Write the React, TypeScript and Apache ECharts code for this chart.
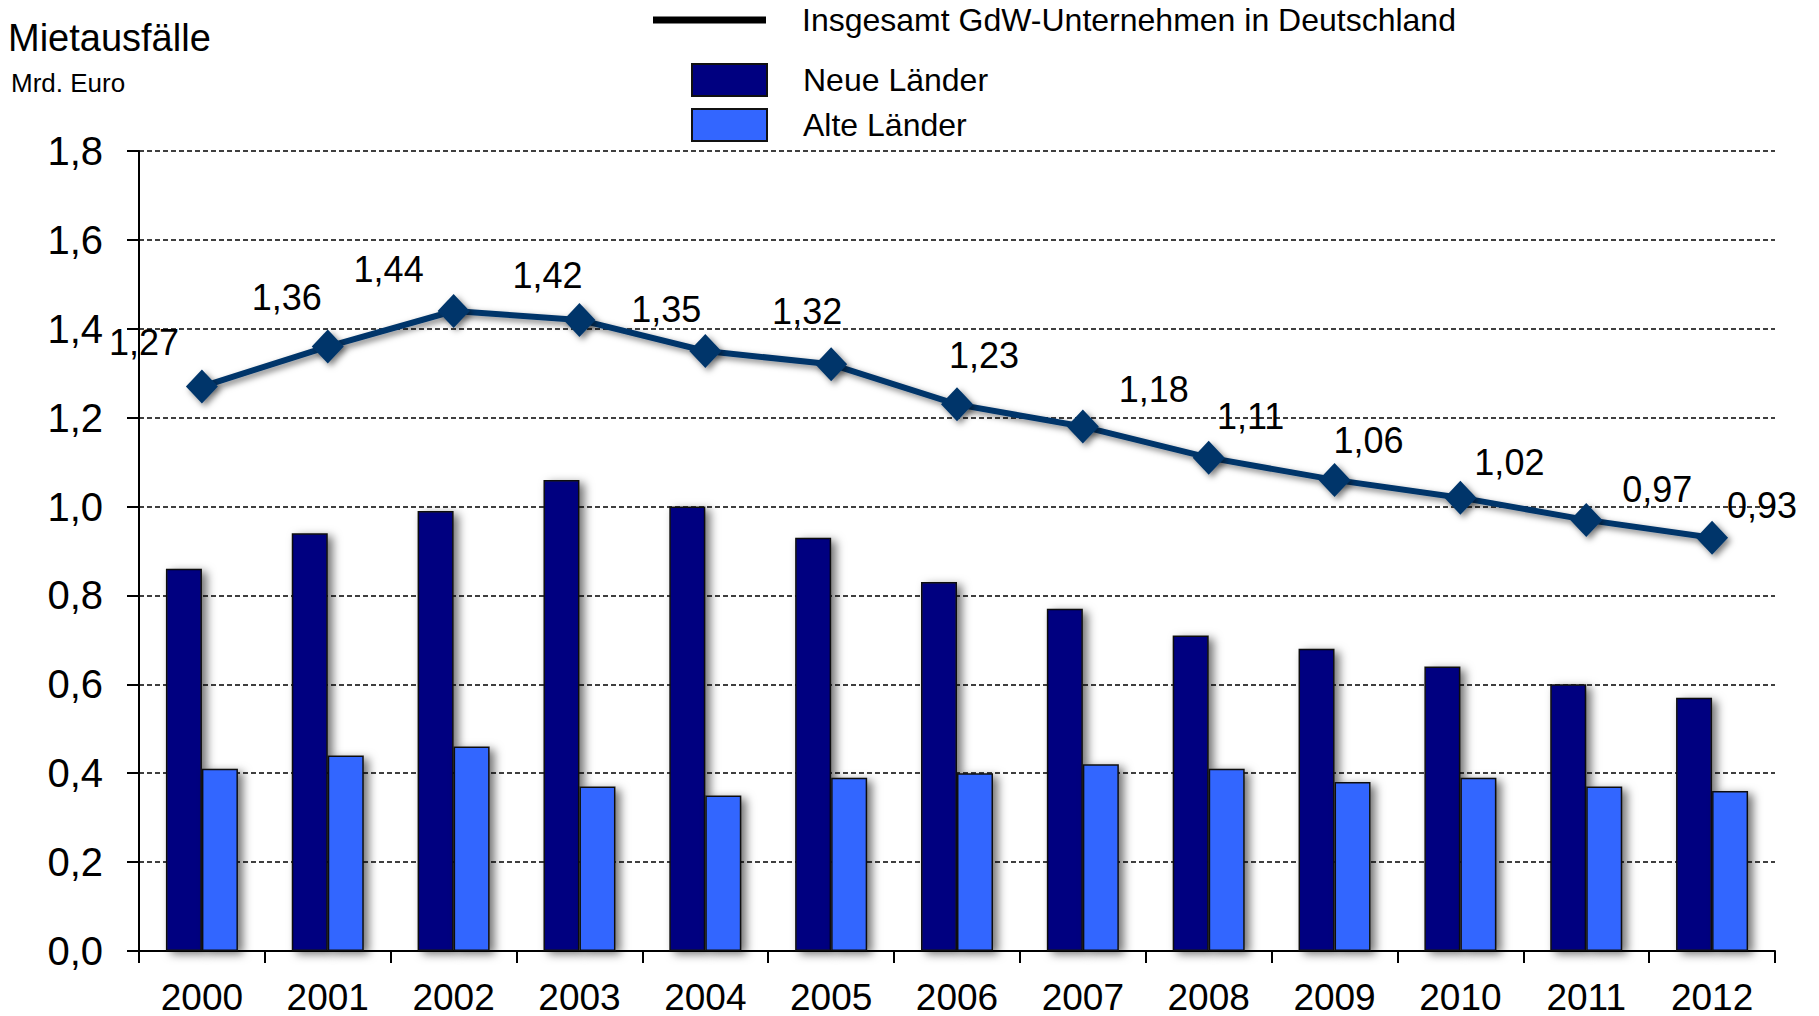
import React, { useEffect, useRef } from "react";
import * as echarts from "echarts";

const years = ["2000", "2001", "2002", "2003", "2004", "2005", "2006", "2007", "2008", "2009", "2010", "2011", "2012"];
const neueLaender = [0.86, 0.94, 0.99, 1.06, 1.0, 0.93, 0.83, 0.77, 0.71, 0.68, 0.64, 0.6, 0.57];
const alteLaender = [0.41, 0.44, 0.46, 0.37, 0.35, 0.39, 0.4, 0.42, 0.41, 0.38, 0.39, 0.37, 0.36];
const insgesamt = [1.27, 1.36, 1.44, 1.42, 1.35, 1.32, 1.23, 1.18, 1.11, 1.06, 1.02, 0.97, 0.93];

const seriesNames = ["Insgesamt GdW-Unternehmen in Deutschland", "Neue Länder", "Alte Länder"];
const titleText = "Mietausfälle";
const unitText = "Mrd. Euro";

// label placement offsets (styling only)
const labelOffsets: [number, number][] = [
  [-58, -44], [-41, -49], [-65, -42], [-32, -44], [-39, -42], [-24, -53], [27, -49],
  [71, -37], [42, -41], [34, -39], [49, -35], [71, -30], [50, -32],
];

const FONT = "'Liberation Sans', Arial, Helvetica, sans-serif";
const fmt = (v: number, d: number) => v.toFixed(d).replace(".", ",");

export default function App() {
  const ref = useRef<HTMLDivElement>(null);
  useEffect(() => {
    if (!ref.current) return;
    const chart = echarts.init(ref.current, null, { renderer: "svg" });
    const barShadow = {
      shadowBlur: 10,
      shadowColor: "rgba(0,0,0,0.55)",
      shadowOffsetX: 5,
      shadowOffsetY: 3,
    };
    const legendText = { fontFamily: FONT, fontSize: 32, color: "#000", lineHeight: 36, padding: [0, 0, 0, 31] };
    chart.setOption({
      animation: false,
      backgroundColor: "#ffffff",
      textStyle: { fontFamily: FONT },
      title: [
        {
          text: titleText,
          left: 8,
          top: 19,
          padding: 0,
          textStyle: { fontFamily: FONT, fontSize: 38, fontWeight: "normal", color: "#000" },
        },
        {
          text: unitText,
          left: 11,
          top: 70,
          padding: 0,
          textStyle: { fontFamily: FONT, fontSize: 26, fontWeight: "normal", color: "#000" },
        },
      ],
      legend: [
        {
          data: [{ name: seriesNames[0], icon: "rect", itemStyle: { color: "#000", borderWidth: 0, shadowBlur: 0 } }],
          left: 653,
          top: 2,
          padding: 0,
          itemWidth: 113,
          itemHeight: 7,
          selectedMode: false,
          textStyle: legendText,
        },
        {
          data: [{ name: seriesNames[1], icon: "rect", itemStyle: { shadowBlur: 0 } }],
          left: 691,
          top: 62,
          padding: 0,
          itemWidth: 75,
          itemHeight: 32,
          selectedMode: false,
          textStyle: legendText,
        },
        {
          data: [{ name: seriesNames[2], icon: "rect", itemStyle: { shadowBlur: 0 } }],
          left: 691,
          top: 107,
          padding: 0,
          itemWidth: 75,
          itemHeight: 32,
          selectedMode: false,
          textStyle: legendText,
        },
      ],
      grid: { left: 139, right: 44, top: 151, bottom: 65, containLabel: false },
      xAxis: {
        type: "category",
        data: years,
        boundaryGap: true,
        axisLine: { show: true, lineStyle: { color: "#000", width: 2 } },
        axisTick: { show: true, alignWithLabel: false, length: 12, lineStyle: { color: "#000", width: 2 } },
        axisLabel: { show: true, margin: 28, fontSize: 37, lineHeight: 36, color: "#000", fontFamily: FONT },
        splitLine: { show: false },
      },
      yAxis: {
        type: "value",
        min: 0,
        max: 1.8,
        interval: 0.2,
        axisLine: { show: true, lineStyle: { color: "#000", width: 2 } },
        axisTick: { show: true, inside: false, length: 12, lineStyle: { color: "#000", width: 2 } },
        axisLabel: {
          show: true,
          margin: 36,
          fontSize: 40,
          color: "#000",
          fontFamily: FONT,
          formatter: (v: number) => fmt(v, 1),
        },
        splitLine: { show: true, lineStyle: { color: "#000", width: 1.5, type: [5, 3] } },
      },
      series: [
        {
          name: seriesNames[1],
          type: "bar",
          data: neueLaender,
          barWidth: 36,
          barGap: "0%",
          z: 2,
          itemStyle: { color: "#000080", borderColor: "#111", borderWidth: 1.5, ...barShadow },
        },
        {
          name: seriesNames[2],
          type: "bar",
          data: alteLaender,
          barWidth: 36,
          barGap: "0%",
          z: 2,
          itemStyle: { color: "#3366ff", borderColor: "#111", borderWidth: 1.5, ...barShadow },
        },
        {
          name: seriesNames[0],
          type: "line",
          z: 5,
          data: insgesamt.map((v, i) => ({ value: v, label: { offset: labelOffsets[i] } })),
          symbol: "diamond",
          symbolSize: [32, 34],
          lineStyle: {
            color: "#04366a",
            width: 6,
            shadowBlur: 6,
            shadowColor: "rgba(0,0,0,0.5)",
            shadowOffsetX: 3,
            shadowOffsetY: 3,
          },
          itemStyle: {
            color: "#04366a",
            borderWidth: 0,
            shadowBlur: 6,
            shadowColor: "rgba(0,0,0,0.5)",
            shadowOffsetX: 3,
            shadowOffsetY: 3,
          },
          label: {
            show: true,
            position: "inside",
            fontSize: 36,
            color: "#000",
            fontFamily: FONT,
            formatter: (p: any) => fmt(p.value, 2),
          },
        },
      ],
    });
    return () => chart.dispose();
  }, []);
  return (
    <div
      ref={ref}
      style={{ position: "fixed", left: 0, top: 0, width: 1819, height: 1016, background: "#fff" }}
    />
  );
}
